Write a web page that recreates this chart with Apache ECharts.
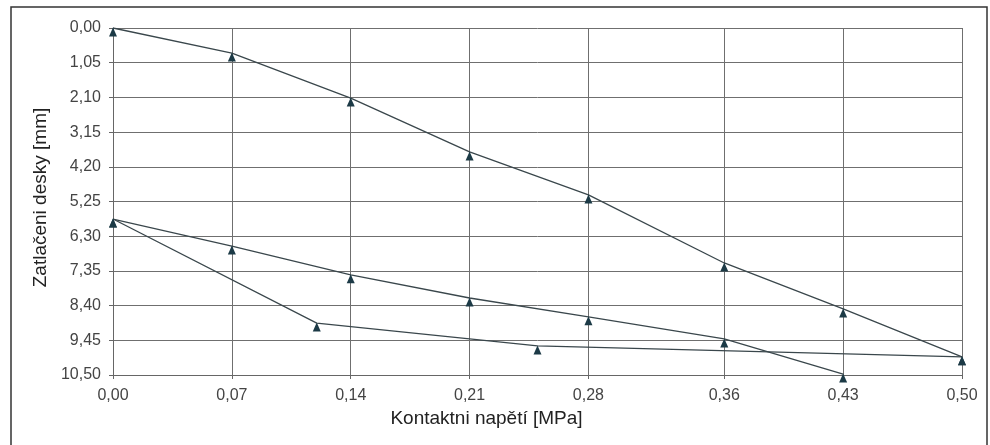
<!DOCTYPE html>
<html>
<head>
<meta charset="utf-8">
<script src="https://cdn.jsdelivr.net/npm/echarts@6/dist/echarts.min.js"></script>
<style>html,body{margin:0;padding:0;background:#fff;}#chart{width:990px;height:445px;}</style>
</head>
<body>
<div id="chart"></div>
<script>
// X tick values (MPa) and Y axis range (mm)
const xTicks = [0, 0.07, 0.14, 0.21, 0.28, 0.36, 0.43, 0.50];
const yMin = 0, yMax = 10.5, yStep = 1.05;

// Loading curve 1 (first loading)
const load1X = [0, 0.07, 0.14, 0.21, 0.28, 0.36, 0.43, 0.50];
const load1Y = [0.0, 0.76, 2.12, 3.75, 5.05, 7.11, 8.50, 9.95];
// Unloading curve
const unloadX = [0.50, 0.25, 0.12, 0];
const unloadY = [9.95, 9.62, 8.93, 5.78];
// Reloading curve
const load2X = [0, 0.07, 0.14, 0.21, 0.28, 0.36, 0.43];
const load2Y = [5.78, 6.60, 7.47, 8.17, 8.74, 9.41, 10.47];

const zip = (xs, ys) => xs.map((x, i) => [x, ys[i]]);
const fmt = v => v.toFixed(2).replace('.', ',');

const lineColor = '#3a474c';
const markColor = '#1c3a46';
const font = 'Liberation Sans, Arial, sans-serif';

function mkSeries(name, data) {
  return {
    name, type: 'line', data,
    lineStyle: { color: lineColor, width: 1.3 },
    itemStyle: { color: markColor },
    symbol: 'triangle', symbolSize: [8, 9], symbolOffset: [0, 4],
    showAllSymbol: true, animation: false, z: 3
  };
}

const chart = echarts.init(document.getElementById('chart'), null, { renderer: 'canvas' });
chart.setOption({
  animation: false,
  backgroundColor: '#fff',
  grid: { left: 113, right: 28, top: 28, bottom: 70, show: false },
  graphic: [{
    type: 'rect', shape: { x: 11, y: 7, width: 976, height: 445 },
    style: { fill: 'none', stroke: '#333', lineWidth: 1.5 }, silent: true, z: -1
  }],
  xAxis: {
    type: 'value', min: 0, max: 0.5,
    name: 'Kontaktni napětí [MPa]', nameLocation: 'middle', nameGap: 34,
    nameTextStyle: { fontFamily: font, fontSize: 19, color: '#222', padding: [0, 102, 0, 0] },
    axisLine: { show: true, onZero: false, lineStyle: { color: '#666', width: 1 } },
    axisTick: { show: true, customValues: xTicks, length: 4, inside: false, lineStyle: { color: '#666' } },
    axisLabel: { customValues: xTicks, formatter: fmt, margin: 13, fontFamily: font, fontSize: 16, color: '#444' },
    splitLine: { show: true, lineStyle: { color: '#6f6f6f', width: 1 } }
  },
  yAxis: {
    type: 'value', inverse: true, min: yMin, max: yMax, interval: yStep,
    name: 'Zatlačeni desky [mm]', nameLocation: 'middle', nameGap: 54,
    nameTextStyle: { fontFamily: font, fontSize: 19, color: '#222', padding: [0, 0, 0, 8] },
    axisLine: { show: true, lineStyle: { color: '#666', width: 1 } },
    axisTick: { show: true, length: 4, lineStyle: { color: '#666' } },
    axisLabel: { formatter: fmt, margin: 12, fontFamily: font, fontSize: 16, color: '#444' },
    splitLine: { show: true, lineStyle: { color: '#6f6f6f', width: 1 } }
  },
  series: [
    mkSeries('Zatížení 1', zip(load1X, load1Y)),
    mkSeries('Odlehčení', zip(unloadX, unloadY)),
    mkSeries('Zatížení 2', zip(load2X, load2Y))
  ]
});
</script>
</body>
</html>
